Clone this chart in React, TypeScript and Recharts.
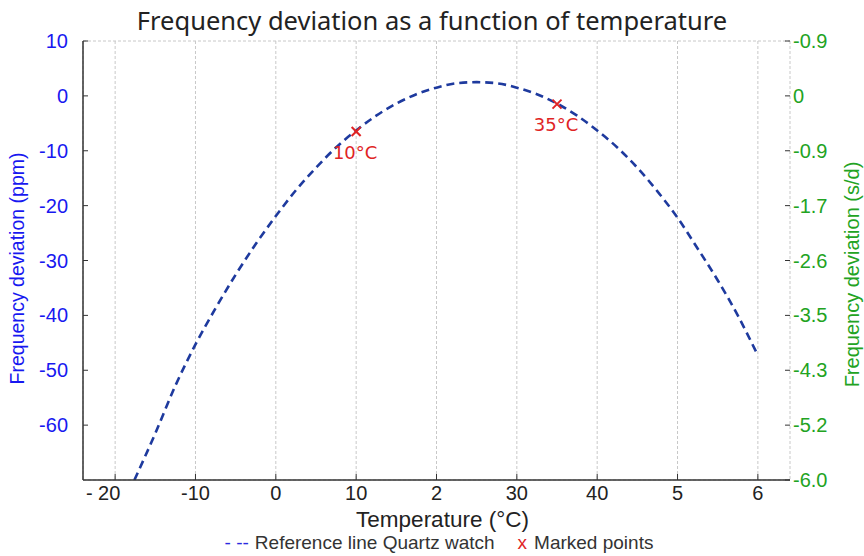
import React from "react";
import {
  ComposedChart,
  Line,
  Scatter,
  XAxis,
  YAxis,
  CartesianGrid,
  Legend,
} from "recharts";

// curve: temperature (°C) -> deviation (ppm)
const temps = [
  -17.6, -15, -12.5, -10, -7.5, -5, -2.5, 0, 2.5, 5, 7.5, 10, 12.5, 15, 17.5, 20,
  22.5, 25, 27.5, 30, 32.5, 35, 37.5, 40, 42.5, 45, 47.5, 50, 52.5, 55, 57.5, 59.9,
];
const ppm = [
  -70, -61.5, -52.8, -45.3, -38.7, -32.6, -27, -21.9, -17.2, -13.1, -9.4, -6.3, -3.6, -1.4, 0.3, 1.5,
  2.3, 2.5, 2.3, 1.5, 0.3, -1.4, -3.6, -6.3, -9.4, -13.1, -17.4, -22.2, -27.8, -33.6, -40, -47,
];

const markerTemps = [10, 35];
const markerPpm = [-6.5, -1.5];
const markerLabels = ["10°C", "35°C"];

const xTicks = [-20, -10, 0, 10, 20, 30, 40, 50, 60];
const xTickLabels = ["- 20", "-10", "0", "10", "2", "30", "40", "5", "6"];
const leftTicks = [10, 0, -10, -20, -30, -40, -50, -60];
const rightTicks = [10, 0, -10, -20, -30, -40, -50, -60, -70];
const rightTickLabels = ["-0.9", "0", "-0.9", "-1.7", "-2.6", "-3.5", "-4.3", "-5.2", "-6.0"];

const curve = temps.map((t, i) => ({ t, ppm: ppm[i] }));
const markers = markerTemps.map((t, i) => ({ t, ppm: markerPpm[i], label: markerLabels[i] }));

const BLUE = "#1818f0";
const GREEN = "#22a322";
const RED = "#e02424";
const LINE = "#1e3a9e";
const AXIS = "#333";
const FONT = "'Liberation Sans', Arial, sans-serif";

const LeftTick = (props: any) => {
  const { x, y, payload } = props;
  const axisX = x + 15;
  return (
    <g>
      <line x1={axisX} x2={axisX + 5} y1={y} y2={y} stroke={AXIS} />
      <text x={x} y={y} dy="0.35em" textAnchor="end" fill={BLUE} fontSize={20} fontFamily={FONT}>
        {payload.value}
      </text>
    </g>
  );
};

const RightTick = (props: any) => {
  const { x, y, payload } = props;
  const axisX = x - 3;
  const label = rightTickLabels[rightTicks.indexOf(payload.value)];
  return (
    <g>
      <line x1={axisX - 5} x2={axisX} y1={y} y2={y} stroke={AXIS} />
      <text x={x} y={y} dy="0.35em" textAnchor="start" fill={GREEN} fontSize={20} fontFamily={FONT}>
        {label}
      </text>
    </g>
  );
};

const BottomTick = (props: any) => {
  const { x, y, payload } = props;
  const axisY = y - 6;
  const label = xTickLabels[xTicks.indexOf(payload.value)];
  return (
    <g>
      <line x1={x} x2={x} y1={axisY} y2={axisY - 6} stroke={AXIS} />
      <text x={label === "- 20" ? x - 12 : x} y={y} dy="0.72em" textAnchor="middle" fill="#222" fontSize={20} fontFamily={FONT}>
        {label}
      </text>
    </g>
  );
};

// red "x" with its temperature written underneath
const Cross = (props: any) => {
  const { cx, cy, payload } = props;
  const s = 4.5;
  return (
    <g>
      <line x1={cx - s} y1={cy - s} x2={cx + s} y2={cy + s} stroke={RED} strokeWidth={2} />
      <line x1={cx - s} y1={cy + s} x2={cx + s} y2={cy - s} stroke={RED} strokeWidth={2} />
      <text x={cx - 1} y={cy + 21} dy="0.35em" textAnchor="middle" fill={RED} fontSize={18} fontFamily="'DejaVu Sans', sans-serif">
        {payload.label}
      </text>
    </g>
  );
};

const LegendContent = () => (
  <div
    style={{
      display: "flex",
      justifyContent: "center",
      alignItems: "center",
      fontFamily: FONT,
      fontSize: 19,
      color: "#333",
      paddingLeft: 14,
    }}
  >
    <span style={{ color: "#2a2ae0", marginRight: 6 }}>- --</span>
    <span>Reference line Quartz watch</span>
    <span style={{ color: RED, marginLeft: 23, marginRight: 7 }}>x</span>
    <span>Marked points</span>
  </div>
);

export default function App() {
  return (
    <div
      style={{
        position: "absolute",
        left: 0,
        top: 0,
        width: 864,
        height: 556,
        background: "#fff",
        fontFamily: FONT,
      }}
    >
      <div
        style={{
          position: "absolute",
          top: 4,
          left: 0,
          width: 864,
          textAlign: "center",
          fontFamily: "'Noto Sans', sans-serif",
          fontSize: 25.5,
          color: "#222",
          lineHeight: "32px",
          paddingRight: 6,
        }}
      >
        Frequency deviation as a function of temperature
      </div>
      <ComposedChart
        width={864}
        height={556}
        margin={{ top: 41, right: 0, bottom: 26, left: 0 }}
      >
        <CartesianGrid stroke="#c8c8c8" strokeDasharray="3 2" />
        <XAxis
          dataKey="t"
          type="number"
          domain={[-24, 64]}
          ticks={xTicks}
          allowDataOverflow
          height={50}
          tickSize={4}
          tickLine={false}
          tick={<BottomTick />}
          stroke={AXIS}
          strokeWidth={1.5}
          label={{
            value: "Temperature (°C)",
            position: "insideBottom",
            offset: 3,
            dx: 6,
            fill: "#222",
            fontSize: 22.5,
            fontFamily: FONT,
          }}
        />
        <YAxis
          yAxisId="left"
          type="number"
          domain={[-70, 10]}
          ticks={leftTicks}
          allowDataOverflow
          width={83}
          tickSize={13}
          tickLine={false}
          tick={<LeftTick />}
          stroke={AXIS}
          strokeWidth={1.5}
          label={{
            content: (p: any) => {
              const vb = p.viewBox;
              const cx = vb.x + 17;
              const cy = vb.y + vb.height / 2 + 8;
              return (
                <text
                  x={cx}
                  y={cy}
                  dy="0.35em"
                  transform={`rotate(-90, ${cx}, ${cy})`}
                  textAnchor="middle"
                  fill={BLUE}
                  fontSize={19.5}
                  fontFamily={FONT}
                >
                  Frequency deviation (ppm)
                </text>
              );
            },
          }}
        />
        <YAxis
          yAxisId="right"
          orientation="right"
          type="number"
          domain={[-70, 10]}
          ticks={rightTicks}
          allowDataOverflow
          width={74}
          tickSize={1}
          tickLine={false}
          axisLine={false}
          tick={<RightTick />}
          label={{
            content: (p: any) => {
              const vb = p.viewBox;
              const cx = vb.x + 62;
              const cy = vb.y + vb.height / 2 + 14;
              return (
                <text
                  x={cx}
                  y={cy}
                  dy="0.35em"
                  transform={`rotate(-90, ${cx}, ${cy})`}
                  textAnchor="middle"
                  fill={GREEN}
                  fontSize={20}
                  fontFamily={FONT}
                >
                  Frequency deviation (s/d)
                </text>
              );
            },
          }}
        />
        <Legend
          layout="horizontal"
          verticalAlign="middle"
          align="center"
          content={<LegendContent />}
          wrapperStyle={{ top: 532, left: 0, width: 864 }}
        />
        <Line
          yAxisId="left"
          data={curve}
          dataKey="ppm"
          type="monotone"
          stroke={LINE}
          strokeWidth={2.6}
          strokeDasharray="8 5"
          dot={false}
          activeDot={false}
          isAnimationActive={false}
        />
        <Scatter
          yAxisId="left"
          data={markers}
          dataKey="ppm"
          shape={<Cross />}
          isAnimationActive={false}
        />
      </ComposedChart>
    </div>
  );
}
